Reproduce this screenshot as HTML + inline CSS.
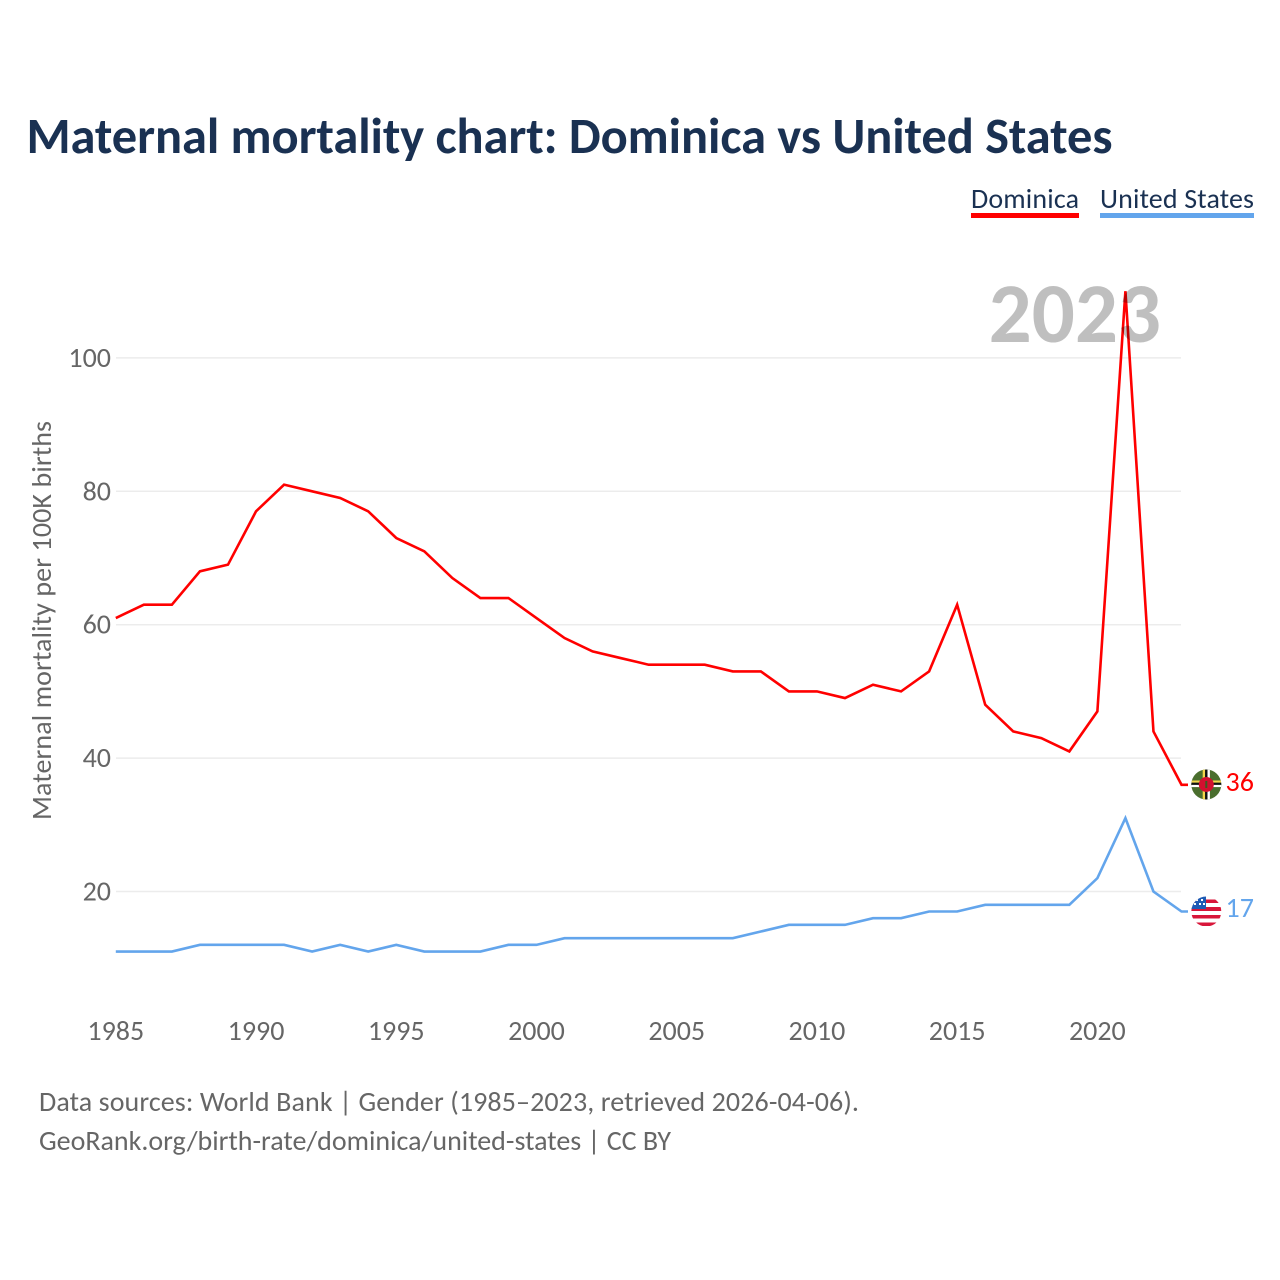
<!DOCTYPE html>
<html lang="en">
<head>
<meta charset="utf-8">
<title>Maternal mortality chart: Dominica vs United States</title>
<style>
html,body{margin:0;padding:0;background:#fff;}
body{width:1280px;height:1280px;overflow:hidden;}
svg{display:block;}
text{font-family:"Carlito","Lato","Liberation Sans",sans-serif;}
</style>
</head>
<body>
<svg id="chart" width="1280" height="1280" viewBox="0 0 1280 1280" xmlns="http://www.w3.org/2000/svg">
  <defs>
    <clipPath id="clip-dm"><circle cx="1206.3" cy="784.5" r="15"/></clipPath>
    <clipPath id="clip-us"><circle cx="1206.3" cy="911.5" r="15"/></clipPath>
  </defs>
  <text x="26.500" y="153" font-size="50.500" font-weight="700" fill="#1a3152" textLength="1086">Maternal mortality chart: Dominica vs United States</text>

  <g>
    <g>
      <text x="971" y="208" font-size="28" fill="#1a3152" textLength="108">Dominica</text>
      <rect x="971" y="213" width="108" height="5" fill="#ff0000"/>
    </g>
    <g>
      <text x="1100" y="208" font-size="28" fill="#1a3152" textLength="154">United States</text>
      <rect x="1100" y="213" width="154" height="5" fill="#63a5ec"/>
    </g>
  </g>

  <g id="grid"></g>
  <g id="yticks"></g>
  <g id="xticks"></g>
  <text transform="translate(51,620.500) rotate(-90)" text-anchor="middle" font-size="28" fill="#666666" textLength="399">Maternal mortality per 100K births</text>

  <g id="series"></g>

  <text x="1161" y="342" text-anchor="end" font-size="85" font-weight="700" fill="#000000" fill-opacity="0.25">2023</text>

  <g clip-path="url(#clip-dm)">
    <rect x="1191" y="769" width="31" height="31" fill="#4a6e2e"/>
    <rect x="1191" y="780.500" width="31" height="2.200" fill="#f2d64b"/>
    <rect x="1191" y="782.700" width="31" height="2.200" fill="#111111"/>
    <rect x="1191" y="784.900" width="31" height="2.200" fill="#ffffff"/>
    <rect x="1202.700" y="769" width="2.400" height="31" fill="#f2d64b"/>
    <rect x="1205.100" y="769" width="2.400" height="31" fill="#111111"/>
    <rect x="1207.500" y="769" width="2.400" height="31" fill="#ffffff"/>
    <circle cx="1206.300" cy="784.500" r="7.500" fill="#d3102f"/>
    <rect x="1205.300" y="781" width="2" height="7" fill="#3d5a20"/>
  </g>

  <g clip-path="url(#clip-us)">
    <rect x="1191" y="896" width="31" height="31" fill="#ffffff"/>
    <rect x="1191" y="899.500" width="31" height="3.500" fill="#d8163a"/>
    <rect x="1191" y="907" width="31" height="4" fill="#d8163a"/>
    <rect x="1191" y="915" width="31" height="3.500" fill="#d8163a"/>
    <rect x="1191" y="922.500" width="31" height="3.500" fill="#d8163a"/>
    <rect x="1191" y="896" width="15" height="13" fill="#1f5bb5"/>
    <rect x="1196" y="899" width="2" height="2" fill="#ffffff"/>
    <rect x="1201" y="899" width="2" height="2" fill="#ffffff"/>
    <rect x="1194" y="903" width="2" height="2" fill="#ffffff"/>
    <rect x="1199" y="903" width="2" height="2" fill="#ffffff"/>
    <rect x="1203" y="903" width="2" height="2" fill="#ffffff"/>
  </g>

  <text x="1225.500" y="791" font-size="28" fill="#ff0000">36</text>
  <text x="1225.500" y="917" font-size="28" fill="#63a5ec">17</text>

  <text x="39" y="1111" font-size="28" fill="#666666" textLength="820">Data sources: World Bank | Gender (1985–2023, retrieved 2026-04-06).</text>
  <text x="39" y="1150" font-size="28" fill="#666666" textLength="632">GeoRank.org/birth-rate/dominica/united-states | CC BY</text>
</svg>
<script>
const years = [1985,1986,1987,1988,1989,1990,1991,1992,1993,1994,1995,1996,1997,1998,1999,2000,2001,2002,2003,2004,2005,2006,2007,2008,2009,2010,2011,2012,2013,2014,2015,2016,2017,2018,2019,2020,2021,2022,2023];
const dominicaValues = [61,63,63,68,69,77,81,80,79,77,73,71,67,64,64,61,58,56,55,54,54,54,53,53,50,50,49,51,50,53,63,48,44,43,41,47,110,44,36];
const unitedStatesValues = [11,11,11,12,12,12,12,11,12,11,12,11,11,11,12,12,13,13,13,13,13,13,13,14,15,15,15,16,16,17,17,18,18,18,18,22,31,20,17];
const yTickValues = [20,40,60,80,100];
const xTickValues = [1985,1990,1995,2000,2005,2010,2015,2020];

const SVG_NS = 'http://www.w3.org/2000/svg';
const xScale = function (year) { return 115.8 + (year - 1985) * 28.045; };
const yScale = function (value) { return 891.5 - (value - 20) * 6.67; };
const flagStartX = 1188;

const gridLayer = document.getElementById('grid');
const yTickLayer = document.getElementById('yticks');
const xTickLayer = document.getElementById('xticks');
const seriesLayer = document.getElementById('series');

yTickValues.forEach(function (value) {
  const line = document.createElementNS(SVG_NS, 'line');
  
  
  line.setAttribute('x1', 116);
  line.setAttribute('x2', 1181);
  line.setAttribute('y1', yScale(value));
  line.setAttribute('y2', yScale(value));
  line.setAttribute('stroke', '#ececec');
  line.setAttribute('stroke-width', 1.5);
  gridLayer.appendChild(line);

  const label = document.createElementNS(SVG_NS, 'text');
  
  
  label.setAttribute('x', 111);
  label.setAttribute('y', yScale(value) + 9);
  label.setAttribute('text-anchor', 'end');
  label.setAttribute('font-size', 28);
  label.setAttribute('fill', '#666666');
  label.textContent = value;
  yTickLayer.appendChild(label);
});

xTickValues.forEach(function (year) {
  const label = document.createElementNS(SVG_NS, 'text');
  
  
  label.setAttribute('x', xScale(year));
  label.setAttribute('y', 1040);
  label.setAttribute('text-anchor', 'middle');
  label.setAttribute('font-size', 28);
  label.setAttribute('fill', '#666666');
  label.textContent = year;
  xTickLayer.appendChild(label);
});

function buildPoints(values) {
  const pts = values.map(function (value, i) {
    return xScale(years[i]).toFixed(2) + ',' + yScale(value).toFixed(2);
  });
  pts.push(flagStartX + ',' + yScale(values[values.length - 1]).toFixed(2));
  return pts.join(' ');
}

const dominicaLine = document.createElementNS(SVG_NS, 'polyline');


dominicaLine.setAttribute('points', buildPoints(dominicaValues));
dominicaLine.setAttribute('fill', 'none');
dominicaLine.setAttribute('stroke', '#ff0000');
dominicaLine.setAttribute('stroke-width', 2.6);
dominicaLine.setAttribute('stroke-linejoin', 'miter');
seriesLayer.appendChild(dominicaLine);

const unitedStatesLine = document.createElementNS(SVG_NS, 'polyline');


unitedStatesLine.setAttribute('points', buildPoints(unitedStatesValues));
unitedStatesLine.setAttribute('fill', 'none');
unitedStatesLine.setAttribute('stroke', '#63a5ec');
unitedStatesLine.setAttribute('stroke-width', 2.6);
unitedStatesLine.setAttribute('stroke-linejoin', 'miter');
seriesLayer.appendChild(unitedStatesLine);
</script>
</body>
</html>
